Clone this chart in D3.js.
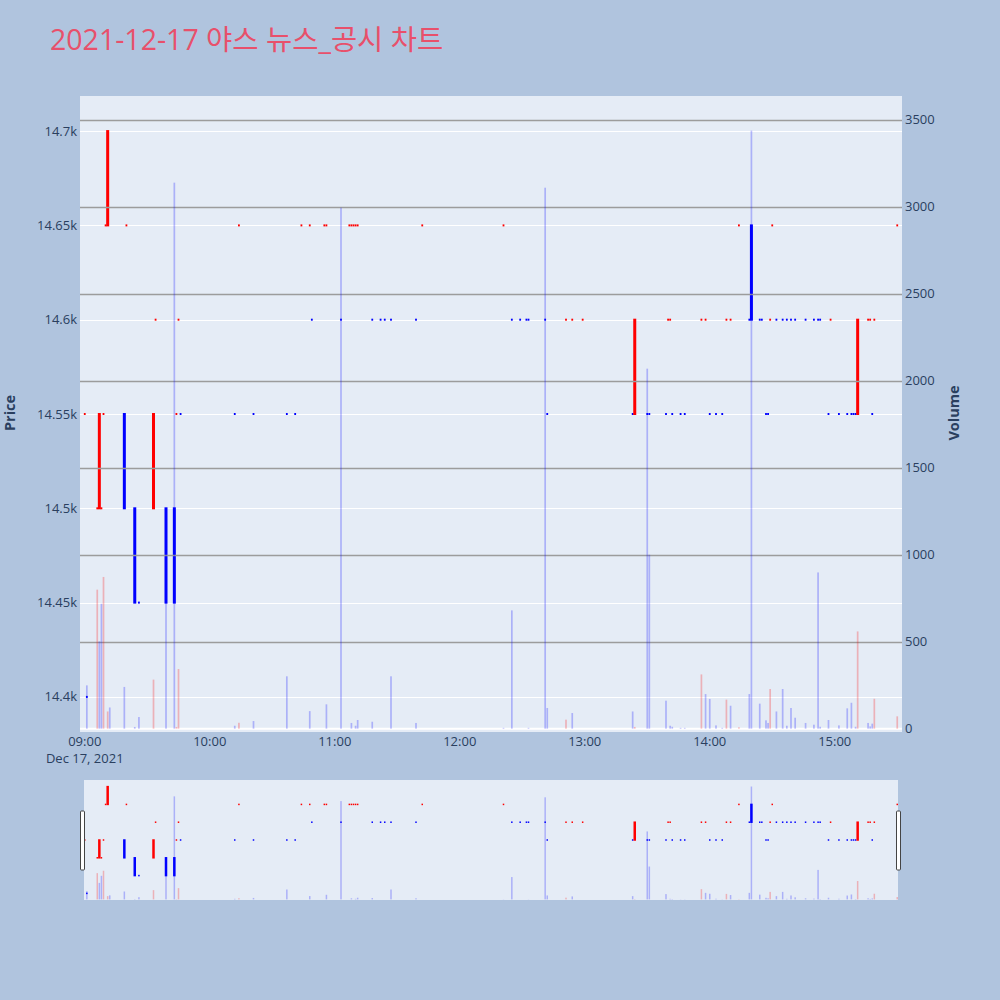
<!DOCTYPE html>
<html><head><meta charset="utf-8">
<script src="https://cdn.jsdelivr.net/npm/d3@7"></script>
<style>
body{margin:0;background:#b0c4de;}
svg{display:block;font-family:"Open Sans","Noto Sans CJK KR",sans-serif;}
</style>
</head><body>
<svg id="chart" width="1000" height="1000"></svg>
<script>
// ---------- data ----------
const chartTitle = "2021-12-17 야스 뉴스_공시 차트";
const tradeDate = "2021-12-17";

const candleTimes = ["09:00","09:01","09:06","09:07","09:08","09:09","09:10","09:11","09:19","09:20","09:24","09:26","09:33","09:34","09:39","09:43","09:44","09:45","09:46",
 "10:12","10:14","10:21","10:37","10:41","10:44","10:48","10:49","10:55","10:56",
 "11:03","11:07","11:08","11:09","11:10","11:11","11:18","11:22","11:24","11:27","11:39","11:42",
 "12:21","12:25","12:29","12:32","12:33","12:41","12:42","12:51","12:54","12:59",
 "13:23","13:24","13:30","13:31","13:39","13:40","13:41","13:42","13:46","13:48","13:56","13:58",
 "14:00","14:03","14:06","14:08","14:10","14:14","14:19","14:20","14:24","14:25","14:27","14:28","14:29","14:30","14:32","14:35","14:37","14:39","14:41","14:46","14:50","14:52","14:53","14:57","14:58",
 "15:02","15:06","15:08","15:09","15:10","15:11","15:16","15:17","15:18","15:19","15:30"];
const candleOpen = [14550,14400,14500,14500,14500,14550,14650,14650,14550,14650,14500,14450,14500,14600,14500,14500,14550,14600,14550,
 14550,14650,14550,14550,14550,14650,14650,14600,14650,14650,
 14600,14650,14650,14650,14650,14650,14600,14600,14600,14600,14600,14650,
 14650,14600,14600,14600,14600,14600,14550,14600,14600,14600,
 14550,14550,14550,14550,14550,14600,14600,14550,14550,14550,14600,14600,
 14550,14550,14550,14600,14600,14650,14600,14650,14600,14600,14550,14550,14600,14650,14600,14600,14600,14600,14600,14600,14600,14600,14600,14550,14600,
 14550,14550,14550,14550,14550,14550,14600,14600,14550,14600,14650];
const candleClose = [14550,14400,14500,14550,14500,14550,14650,14700,14500,14650,14450,14450,14550,14600,14450,14450,14550,14600,14550,
 14550,14650,14550,14550,14550,14650,14650,14600,14650,14650,
 14600,14650,14650,14650,14650,14650,14600,14600,14600,14600,14600,14650,
 14650,14600,14600,14600,14600,14600,14550,14600,14600,14600,
 14550,14600,14550,14550,14550,14600,14600,14550,14550,14550,14600,14600,
 14550,14550,14550,14600,14600,14650,14600,14600,14600,14600,14550,14550,14600,14650,14600,14600,14600,14600,14600,14600,14600,14600,14600,14550,14600,
 14550,14550,14550,14550,14550,14600,14600,14600,14550,14600,14650];
const candleHigh = candleOpen.map((o,i)=>Math.max(o,candleClose[i]));
const candleLow  = candleOpen.map((o,i)=>Math.min(o,candleClose[i]));
// 1 = increasing (red), 0 = decreasing (blue)
const candleUp = [1,0,1,1,1,1,1,1,0,1,0,0,1,1,0,0,1,1,0,
 0,1,0,0,0,1,1,0,1,1,
 0,1,1,1,1,1,0,0,0,0,0,1,
 1,0,0,0,0,0,0,1,1,1,
 0,1,0,0,0,1,1,0,0,0,1,1,
 0,0,0,1,1,1,0,0,0,0,0,0,1,1,0,0,0,0,0,0,0,0,0,0,1,
 0,0,0,0,0,1,1,1,0,1,1];

const volTimes = ["09:01","09:06","09:07","09:08","09:09","09:11","09:12","09:19","09:24","09:26","09:33","09:39","09:43","09:44","09:45",
 "10:12","10:14","10:21","10:37","10:48","10:56",
 "11:03","11:08","11:10","11:11","11:18","11:27","11:39",
 "12:21","12:25","12:33","12:41","12:42","12:51","12:54",
 "13:23","13:24","13:30","13:31","13:39","13:41","13:42","13:46","13:48","13:56","13:58",
 "14:00","14:03","14:06","14:08","14:10","14:14","14:19","14:20","14:24","14:27","14:28","14:29","14:32","14:35","14:37","14:39","14:41","14:46","14:50","14:52","14:53","14:57",
 "15:02","15:06","15:08","15:10","15:11","15:16","15:17","15:18","15:19","15:30"];
const volValues = [249,799,502,718,872,99,122,240,10,67,282,1150,3138,10,343,
 17,34,44,301,101,140,
 2994,33,17,50,40,301,33,
 5,680,5,3109,119,52,90,
 99,10,2069,1000,161,17,11,5,5,312,199,
 171,19,5,167,132,8,199,3437,144,48,33,228,99,228,17,119,63,33,23,898,11,50,
 19,117,149,11,559,33,13,29,172,71];
const volUp = [0,1,0,0,1,1,0,0,0,0,1,0,0,1,1,
 0,1,0,0,0,0,
 0,0,0,0,0,0,0,
 0,0,0,0,0,1,0,
 0,1,0,0,0,0,0,0,0,1,0,
 0,0,0,1,0,1,0,0,0,0,0,1,0,0,0,0,0,0,0,0,0,0,
 0,0,0,0,1,0,0,0,1,1];

const priceTicks = [14400,14450,14500,14550,14600,14650,14700];
const volTicks = [0,500,1000,1500,2000,2500,3000,3500];
const timeTickLabels = ["09:00","10:00","11:00","12:00","13:00","14:00","15:00"];
const dateLabel = "Dec 17, 2021";

// ---------- setup ----------
const parse = d3.timeParse("%Y-%m-%d %H:%M");
const T = s => parse(tradeDate + " " + s);
const candles = candleTimes.map((t,i)=>({t:T(t),o:candleOpen[i],h:candleHigh[i],l:candleLow[i],c:candleClose[i],up:candleUp[i]}));
const vols = volTimes.map((t,i)=>({t:T(t),v:volValues[i],up:volUp[i]}));

const UP = "#ff0000", DN = "#0000ff";
const L = 80, R = 902, TOP = 96, BOT = 732;
const x = d3.scaleTime()
  .domain([d3.timeSecond.offset(T("09:00"),-137), d3.timeSecond.offset(T("15:30"),137)])
  .range([L,R]);
const yP = d3.scaleLinear().domain([14381.4,14718.6]).range([BOT,TOP]);
const yV = d3.scaleLinear().domain([-19,3636]).range([BOT,TOP]);

const svg = d3.select("#chart");
const ink = "#2a3f5f";

// title
svg.append("text").attr("x",50).attr("y",50).attr("font-size",28.5).attr("fill","#e8506b").text(chartTitle);

// plot bg
svg.append("rect").attr("x",L).attr("y",TOP).attr("width",R-L).attr("height",BOT-TOP).attr("fill","#e5ecf6");
svg.append("clipPath").attr("id","clip").append("rect").attr("x",L).attr("y",TOP).attr("width",R-L).attr("height",BOT-TOP);
const plot = svg.append("g").attr("clip-path","url(#clip)");

// price grid (white)
plot.append("g").selectAll("line").data(priceTicks).join("line")
  .attr("x1",L).attr("x2",R).attr("y1",d=>Math.round(yP(d))+0.5).attr("y2",d=>Math.round(yP(d))+0.5)
  .attr("stroke","#fff").attr("stroke-width",1);

// candles: body rect grown by the outline width; flat candles become short dashes
function drawCandles(g, ys, lw, bw, dashW){
  g.selectAll("rect").data(candles).join("rect")
    .attr("x",d=>x(d.t)-(d.o===d.c?dashW:bw+lw)/2)
    .attr("y",d=>ys(d.h)-lw/2)
    .attr("width",d=>d.o===d.c?dashW:bw+lw)
    .attr("height",d=>Math.abs(ys(d.l)-ys(d.h))+lw)
    .attr("fill",d=>d.up?UP:DN);
}
drawCandles(plot.append("g"), yP, 2, 1, 1.8);

// volume grid (gray)
plot.append("g").selectAll("line").data(volTicks.filter(v=>v>0)).join("line")
  .attr("x1",L).attr("x2",R).attr("y1",d=>Math.round(yV(d))+0.5).attr("y2",d=>Math.round(yV(d))+0.5)
  .attr("stroke","#9c9c9c").attr("stroke-width",1.3);
plot.append("line").attr("x1",L).attr("x2",R).attr("y1",yV(0)).attr("y2",yV(0)).attr("stroke","#fff").attr("stroke-width",2);

function drawVols(g, ys, w){
  g.selectAll("rect").data(vols).join("rect")
    .attr("x",d=>x(d.t)-w/2).attr("width",w)
    .attr("y",d=>ys(d.v)).attr("height",d=>ys(0)-ys(d.v))
    .attr("fill",d=>d.up?UP:DN).attr("fill-opacity",0.25);
}
drawVols(plot.append("g"), yV, 1.7);

// axes labels
const fP = d3.format(".4~s");
svg.append("g").selectAll("text").data(priceTicks).join("text")
  .attr("x",77).attr("y",d=>yP(d)).attr("dy","0.35em").attr("text-anchor","end")
  .attr("font-size",13).attr("fill",ink).text(d=>fP(d));
svg.append("g").selectAll("text").data(volTicks).join("text")
  .attr("x",905).attr("y",d=>yV(d)).attr("dy","0.35em").attr("text-anchor","start")
  .attr("font-size",13).attr("fill",ink).text(d=>d);
const xt = svg.append("g");
xt.selectAll("text").data(timeTickLabels).join("text")
  .attr("x",d=>x(T(d))).attr("y",746).attr("text-anchor","middle")
  .attr("font-size",13).attr("fill",ink).text(d=>d);
xt.append("text").attr("x",x(T(timeTickLabels[0]))).attr("y",763).attr("text-anchor","middle")
  .attr("font-size",13).attr("fill",ink).text(dateLabel);

svg.append("text").attr("transform","translate(15,413) rotate(-90)").attr("text-anchor","middle")
  .attr("font-size",14.5).attr("font-weight","bold").attr("fill",ink).text("Price");
svg.append("text").attr("transform","translate(959,413) rotate(-90)").attr("text-anchor","middle")
  .attr("font-size",14.5).attr("font-weight","bold").attr("fill",ink).text("Volume");

// ---------- range slider ----------
const ST = 780, SB = 900;
const yPs = yP.copy().range([SB,ST]);
const yVs = yV.copy().range([SB,ST]);
svg.append("rect").attr("x",84).attr("y",ST).attr("width",898-84).attr("height",SB-ST).attr("fill","#e5ecf6");
svg.append("clipPath").attr("id","clip2").append("rect").attr("x",84).attr("y",ST).attr("width",898-84).attr("height",SB-ST);
const sl = svg.append("g").attr("clip-path","url(#clip2)");
drawCandles(sl.append("g"), yPs, 1.5, 1, 1.5);
drawVols(sl.append("g"), yVs, 1.5);
[[80.5,811],[896.5,811]].forEach(([hx,hy])=>{
  svg.append("rect").attr("x",hx).attr("y",hy).attr("width",4).attr("height",59)
    .attr("rx",1).attr("fill","#fff").attr("stroke","#444").attr("stroke-width",1);
});
</script>
</body></html>
